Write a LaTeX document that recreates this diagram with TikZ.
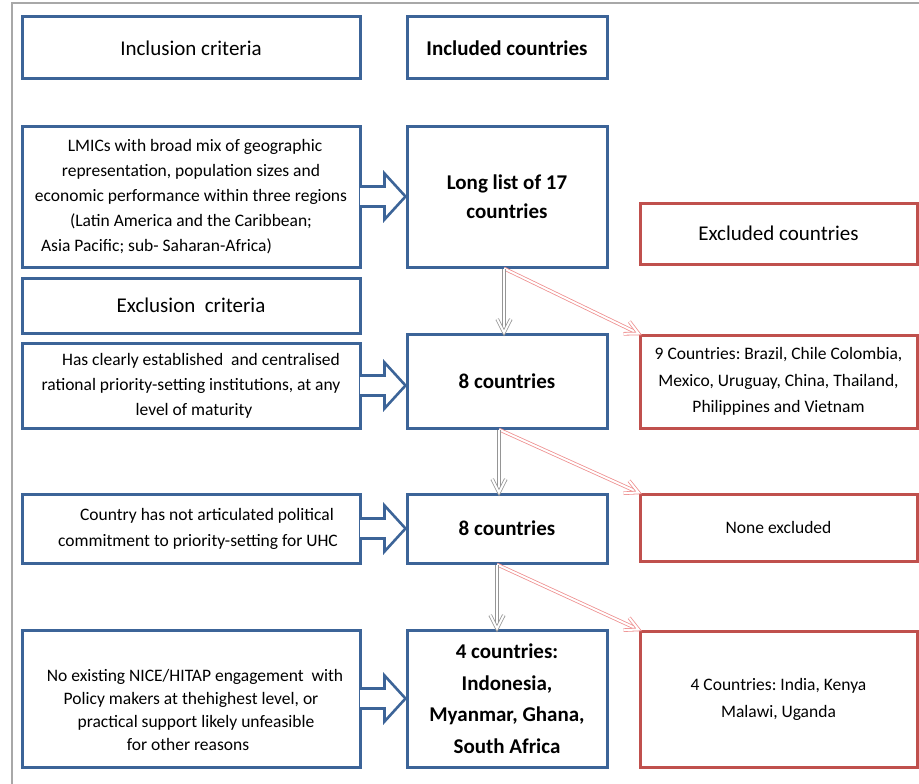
\documentclass[tikz,border=0pt]{standalone}
\usepackage{fontspec}
\setmainfont{Carlito}
\frenchspacing
\usetikzlibrary{calc}
\definecolor{boxblue}{HTML}{3C6498}
\definecolor{boxred}{HTML}{C0504D}
\definecolor{arrred}{HTML}{EE9090}
\definecolor{arrgray}{HTML}{959595}
\definecolor{framegray}{HTML}{A8A8A8}
\newcommand{\blockarrow}[2]{%
  \draw[blockarr] ($(#1.east)+(-1.5pt,10pt)$) -- ($(#1.east -| #2.west)+(-21pt,10pt)$) -- ($(#1.east -| #2.west)+(-21pt,23pt)$) -- (#1.east -| #2.west) -- ($(#1.east -| #2.west)+(-21pt,-23pt)$) -- ($(#1.east -| #2.west)+(-21pt,-10pt)$) -- ($(#1.east)+(-1.5pt,-10pt)$);}
\newcommand{\dblarrow}[3]{%
  \draw[dblline=#1] (#2) -- (#3);
  \draw[dblline=#1] ($(#3)!15pt!27:(#2)$) -- (#3) -- ($(#3)!15pt!-27:(#2)$);}
\begin{document}
\begin{tikzpicture}[x=1pt,y=-1pt,
  bluebox/.style={draw=boxblue, line width=3pt, fill=white, inner sep=2pt, align=center, font=\fontsize{17.5}{25}\selectfont},
  redbox/.style={draw=boxred, line width=3pt, fill=white, inner sep=2pt, align=center, font=\fontsize{17.5}{26.5}\selectfont},
  leftw/.style={minimum width=338pt},
  midw/.style={minimum width=200pt},
  rightw/.style={minimum width=277pt},
  bigtxt/.style={font=\fontsize{21}{25}\selectfont},
  bigbold/.style={font=\fontsize{21}{29.5}\selectfont\bfseries},
  blockarr/.style={draw=boxblue, line width=2.6pt, fill=white, line join=miter},
  dblline/.style={draw=#1, double=white, double distance=2pt, line width=0.8pt, line join=miter}]
\useasboundingbox (0,0) rectangle (919,784);
\draw[framegray, line width=1.5pt] (12,784) -- (12,3) -- (919,3);

% left column
\node[bluebox, leftw, minimum height=62pt, bigtxt] (incl) at (191,48) {Inclusion criteria};
\node[bluebox, leftw, minimum height=141pt] (lmic) at (191,196.5) {\hspace*{8pt}LMICs with broad mix of geographic\\ representation, population sizes and\\ economic performance within three regions\\ (Latin America and the Caribbean;\hspace*{50pt}\\ Asia Pacific; sub- Saharan-Africa)\hspace*{69pt}};
\node[bluebox, leftw, minimum height=55pt, bigtxt] (excl) at (191,305.5) {Exclusion\ \ criteria};
\node[bluebox, leftw, minimum height=85pt] (has) at (191,385.5) {\hspace*{20pt}Has clearly established\ \ and centralised\\ rational priority-setting institutions, at any\\ \hspace*{6pt}level of maturity};
\node[bluebox, leftw, minimum height=69pt, font=\fontsize{17.5}{26}\selectfont] (country) at (191,528.5) {\hspace*{32pt}Country has not articulated political\\ \hspace*{14pt}commitment to priority-setting for UHC};
\node[bluebox, leftw, minimum height=137pt] (noexist) at (191,698.5) {};
\node[align=center, font=\fontsize{17.5}{23}\selectfont, inner sep=0pt] (noexistT) at (191,710) {\hspace*{8pt}No existing NICE/HITAP engagement\ \ with\\ Policy makers at thehighest level, or\hspace*{38pt}\\ \hspace*{10pt}practical support likely unfeasible\\ for other reasons\hspace*{6pt}};

% middle column
\node[bluebox, midw, minimum height=62pt, font=\fontsize{21}{25}\selectfont\bfseries] (incd) at (507,48) {Included countries};
\node[bluebox, midw, minimum height=141pt, bigbold] (long) at (507,196.5) {Long list of 17\\countries};
\node[bluebox, midw, minimum height=94pt, bigbold] (eight1) at (507,381) {8 countries};
\node[bluebox, midw, minimum height=69pt, bigbold] (eight2) at (507,528.5) {8 countries};
\node[bluebox, midw, minimum height=137pt, font=\fontsize{21}{31.5}\selectfont\bfseries] (four) at (507,698.5) {4 countries:\\ Indonesia,\\ Myanmar, Ghana,\\ South Africa};

% right column
\node[redbox, rightw, minimum height=61pt, bigtxt] (exclc) at (778.5,233.5) {Excluded countries};
\node[redbox, rightw, minimum height=93pt] (nine) at (778.5,381.5) {9 Countries: Brazil, Chile Colombia,\\ Mexico, Uruguay, China, Thailand,\\ Philippines and Vietnam};
\node[redbox, rightw, minimum height=67pt] (none) at (778.5,527.5) {None excluded};
\node[redbox, rightw, minimum height=136pt, font=\fontsize{17.5}{27}\selectfont] (fourx) at (778.5,699) {4 Countries: India, Kenya\\ Malawi, Uganda};

% block arrows
\blockarrow{lmic}{long}
\blockarrow{has}{eight1}
\blockarrow{country}{eight2}
\blockarrow{noexist}{four}

% double-line arrows
\coordinate (s1) at ([xshift=-3pt]long.south);
\coordinate (t1) at ([xshift=-3pt]eight1.north);
\coordinate (s2) at ([xshift=-8pt]eight1.south);
\coordinate (t2) at ([xshift=-8pt]eight2.north);
\coordinate (s3) at ([xshift=-10pt]eight2.south);
\coordinate (t3) at ([xshift=-10pt]four.north);
\dblarrow{arrred}{s1}{nine.north west}
\dblarrow{arrred}{s2}{none.north west}
\dblarrow{arrred}{s3}{fourx.north west}
\dblarrow{arrgray}{s1}{t1}
\dblarrow{arrgray}{s2}{t2}
\dblarrow{arrgray}{s3}{t3}
\end{tikzpicture}
\end{document}
